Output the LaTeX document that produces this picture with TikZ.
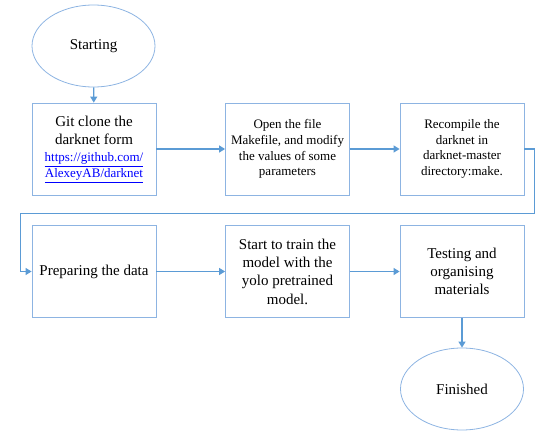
\documentclass[tikz,border=0pt]{standalone}
\usepackage{fontspec}
\setmainfont{Liberation Serif}
\usetikzlibrary{shapes.geometric,arrows.meta}
\definecolor{boxblue}{RGB}{141,180,226}
\definecolor{arrowblue}{RGB}{91,155,213}
\definecolor{linkblue}{RGB}{0,0,255}
\newcommand{\bigtxt}{\fontsize{15}{18.3}\selectfont}
\newcommand{\smalltxt}{\fontsize{13}{15.7}\selectfont}
\newcommand{\weblink}[1]{{\smalltxt\color{linkblue}\underline{#1}}}
\tikzset{
  stepbox/.style={draw=boxblue, line width=0.8pt, minimum width=124pt, minimum height=92pt, align=center, inner sep=2pt},
  terminal/.style={draw=boxblue, line width=0.8pt, ellipse, minimum width=123pt, minimum height=82pt, align=center, font=\bigtxt},
  flow/.style={draw=arrowblue, line width=1.2pt, -{Triangle[width=7pt,length=6pt]}}
}
\begin{document}
\begin{tikzpicture}[x=1pt,y=-1pt]
  \useasboundingbox (0,0) rectangle (544,441);
  % top row
  \node[terminal] (start) at (93.5,46) {Starting};
  \node[stepbox, font=\bigtxt] (clone) at (94,149) {Git clone the\\ darknet form\\[-1pt]
    \weblink{https://github.com/}\\[-2.5pt] \weblink{AlexeyAB/darknet}};
  \node[stepbox, font=\smalltxt] (makefile) at (287.5,149) {Open the file\\ Makefile, and modify\\ the values of some\\ parameters};
  \node[stepbox, font=\smalltxt] (recompile) at (462,149) {Recompile the\\ darknet in\\ darknet-master\\ directory:make.};
  % bottom row
  \node[stepbox, font=\bigtxt] (prepare) at (94,271.5) {Preparing the data};
  \node[stepbox, font=\bigtxt] (train) at (287.5,271.5) {Start to train the\\ model with the\\ yolo pretrained\\ model.};
  \node[stepbox, font=\bigtxt] (testing) at (462,271.5) {Testing and\\ organising\\ materials};
  \node[terminal] (finish) at (462,389) {Finished};
  % connectors
  \coordinate (turnR) at (534.5,213.5);
  \coordinate (turnL) at (20.5,213.5);
  \draw[flow] (start) -- (clone);
  \draw[flow] (clone) -- (makefile);
  \draw[flow] (makefile) -- (recompile);
  \draw[flow] (recompile.east) -| (turnR) -- (turnL) |- (prepare.west);
  \draw[flow] (prepare) -- (train);
  \draw[flow] (train) -- (testing);
  \draw[flow] (testing) -- (finish);
\end{tikzpicture}
\end{document}
